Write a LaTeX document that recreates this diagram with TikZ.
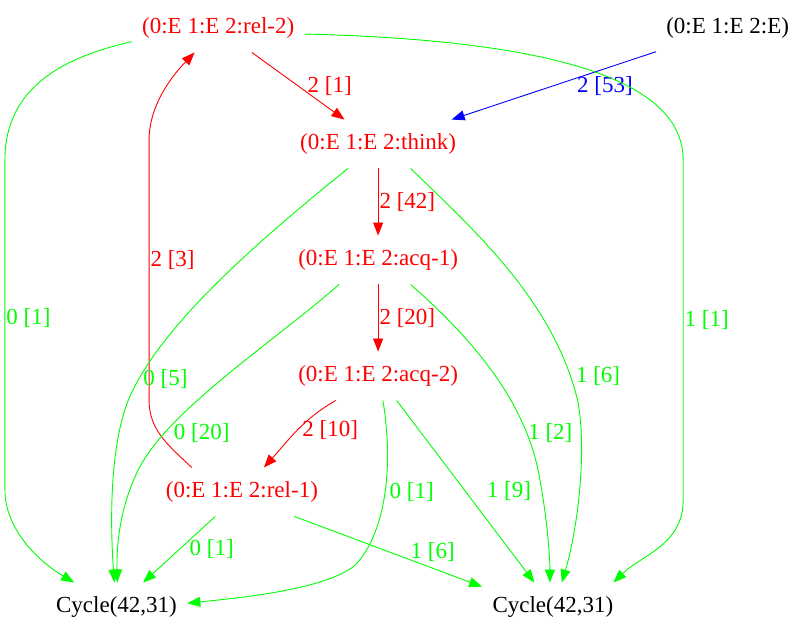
\documentclass[tikz,border=0pt]{standalone}
\usepackage{fontspec}
\setmainfont{Liberation Serif}
\usepackage{tikz}
\usetikzlibrary{positioning}
\usetikzlibrary{arrows.meta}
\tikzset{
st/.style={
  rectangle,
  inner xsep=10pt,
  inner ysep=0pt,
  minimum height=48pt,
  draw=none
  },
lab/.style={
  inner sep=1pt
  }
}

\begin{document}
\begin{tikzpicture}[x=0.9873pt,y=1pt,->,>={Triangle[length=13pt,width=10pt]},line width=0.9pt,font=\fontsize{23}{27}\selectfont]
        \useasboundingbox (0,0) rectangle (817.4,-639);
        \node[st,text=red] at (221,-28) (rel2) {(0:E 1:E 2:rel-2)};
        \node[st] at (737,-28) (e) {(0:E 1:E 2:E)};
        \node[st,text=red] at (383,-144) (think) {(0:E 1:E 2:think)};
        \node[st,text=red] at (383,-260) (acq1) {(0:E 1:E 2:acq-1)};
        \node[st,text=red] at (383,-376) (acq2) {(0:E 1:E 2:acq-2)};
        \node[st,text=red] at (245,-492) (rel1) {(0:E 1:E 2:rel-1)};
        \node[st] at (118,-607) (cyca) {Cycle(42,31)};
        \node[st] at (560,-607) (cycb) {Cycle(42,31)};
        \path[->]
        (rel2) edge [red] node[lab,right=8pt] {2 [1]} (think)
        (e) edge [blue] node[lab,right=22pt] {2 [53]} (think)
        (think) edge [red] node[lab,right] {2 [42]} (acq1)
        (acq1) edge [red] node[lab,right] {2 [20]} (acq2)
        (acq2) edge [red,out=210,in=48] node[lab,right=4pt] {2 [10]} (rel1)
        (acq2) edge [green] node[lab,right=20pt] {1 [9]} (cycb)
        (rel1) edge [green] node[lab,right=9pt] {0 [1]} (cyca)
        (rel1.-25) edge [green] node[lab,right=21pt] {1 [6]} (cycb.164)
        ;
        % long curved edges
        \draw[red] (rel1.154) .. controls (170,-445) and (151,-430) .. (151,-400)
            -- node[lab,right,pos=0.54] {2 [3]} (151,-140)
            .. controls (151,-100) and (182,-68) .. (rel2.226);
        \draw[green] (rel2.189) .. controls (60,-58) and (5,-90) .. (5,-160)
            -- node[lab,right,pos=0.48] {0 [1]} (5,-490)
            .. controls (5,-530) and (40,-562) .. (cyca.150);
        \draw[green] (rel2.-4) .. controls (560,-40) and (692,-80) .. (692,-160)
            -- node[lab,right,pos=0.47] {1 [1]} (692,-500)
            .. controls (692,-545) and (650,-555) .. (cycb.22);
        \draw[green] (think.219) .. controls (250,-250) and (160,-330) .. (130,-400)
            node[lab,right=3pt,pos=0.9] {0 [5]}
            .. controls (110,-450) and (112,-530) .. (cyca.95);
        \draw[green] (think.-37) .. controls (480,-230) and (560,-300) .. (585,-400)
            node[lab,right=4pt,pos=0.92] {1 [6]}
            .. controls (595,-450) and (585,-530) .. (cycb.70);
        \draw[green] (acq1.212) .. controls (280,-340) and (170,-410) .. (140,-470)
            node[lab,right=8pt,pos=0.8] {0 [20]}
            .. controls (120,-510) and (118,-550) .. (cyca.88);
        \draw[green] (acq1.-37) .. controls (480,-340) and (530,-400) .. (545,-470)
            node[lab,right,pos=0.82] {1 [2]}
            .. controls (555,-520) and (557,-560) .. (cycb.97);
        \draw[green] (acq2.-79) .. controls (398,-460) and (393,-530) .. (360,-565)
            node[lab,right=3pt,pos=0.5] {0 [1]}
            .. controls (330,-590) and (240,-598) .. (cyca.3);
    \end{tikzpicture}
\end{document}
